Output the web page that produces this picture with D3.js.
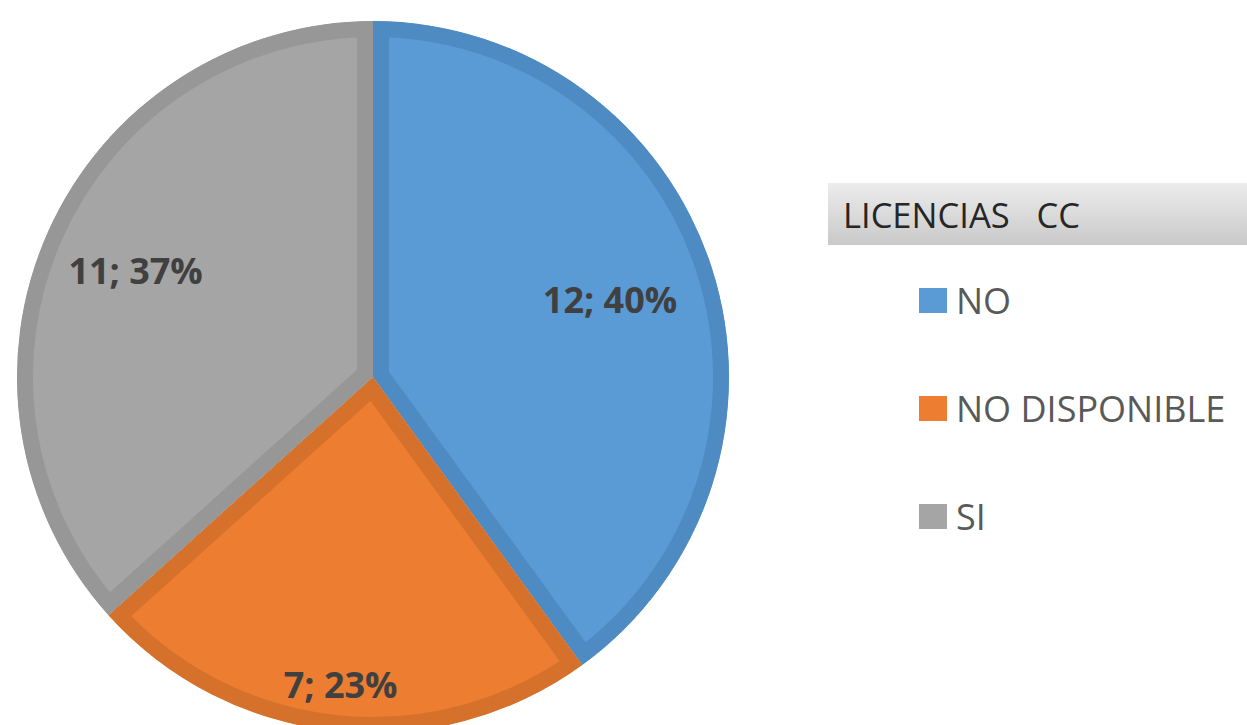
<!DOCTYPE html>
<html>
<head>
<meta charset="utf-8">
<script src="https://cdn.jsdelivr.net/npm/d3@7"></script>
<style>
  body { margin: 0; background: #fff; }
  svg { display: block; }
</style>
</head>
<body>
<svg id="chart" width="1247" height="725"></svg>
<script>
"use strict";

const categories = ["NO", "NO DISPONIBLE", "SI"];
const counts = [12, 7, 11];
const percentLabels = ["40%", "23%", "37%"];
const legendTitle = "LICENCIAS   CC";

const fills = ["#5b9bd5", "#ed7d31", "#a5a5a5"];
const borders = ["#4f8bc3", "#d6712c", "#979797"];
// how far out each label sits, as fraction of radius
const labelRadius = [0.70, 0.87, 0.73];

const width = 1247, height = 725;
const cx = 373, cy = 377, radius = 356;

const svg = d3.select("#chart");

const defs = svg.append("defs");
const grad = defs.append("linearGradient")
  .attr("id", "titleGrad")
  .attr("x1", 0).attr("y1", 0).attr("x2", 0).attr("y2", 1);
grad.append("stop").attr("offset", "0%").attr("stop-color", "#ececec");
grad.append("stop").attr("offset", "100%").attr("stop-color", "#c9c9c9");

const pie = d3.pie().sort(null).value(d => d.count);
const arc = d3.arc().innerRadius(0).outerRadius(radius);

const data = categories.map((c, i) => ({ name: c, count: counts[i], pct: percentLabels[i], i: i }));
const arcs = pie(data);

const g = svg.append("g").attr("transform", `translate(${cx},${cy})`);

// clip each slice to itself so its border only shows on the inside
arcs.forEach((d, i) => {
  defs.append("clipPath")
    .attr("id", "clip" + i)
    .append("path")
    .attr("d", arc(d));
});

g.selectAll("path.slice")
  .data(arcs)
  .enter()
  .append("path")
  .attr("class", "slice")
  .attr("d", arc)
  .attr("clip-path", (d, i) => `url(#clip${i})`)
  .style("fill", (d, i) => fills[i])
  .style("stroke", (d, i) => borders[i])
  .style("stroke-width", 32)
  .style("stroke-linejoin", "miter");

g.selectAll("text.lbl")
  .data(arcs)
  .enter()
  .append("text")
  .attr("class", "lbl")
  .attr("transform", (d, i) => {
    const r = radius * labelRadius[i];
    const a = (d.startAngle + d.endAngle) / 2;
    return `translate(${Math.sin(a) * r},${-Math.cos(a) * r})`;
  })
  .attr("text-anchor", "middle")
  .attr("dy", "0.36em")
  .style("font-family", "'Open Sans', 'DejaVu Sans', sans-serif")
  .style("font-weight", "bold")
  .style("font-size", "36px")
  .style("fill", "#404040")
  .text(d => `${d.data.count}; ${d.data.pct}`);

// legend
const legend = svg.append("g").attr("id", "legend");

legend.append("rect")
  .attr("x", 828)
  .attr("y", 183)
  .attr("width", width - 828)
  .attr("height", 62)
  .style("fill", "url(#titleGrad)");

legend.append("text")
  .attr("x", 843)
  .attr("y", 228)
  .style("font-family", "'Open Sans', sans-serif")
  .style("font-size", "34.5px")
  .style("white-space", "pre")
  .style("fill", "#262626")
  .text(legendTitle);

const legendY = d3.scalePoint()
  .domain(categories)
  .range([300, 516]);

const items = legend.selectAll("g.item")
  .data(categories)
  .enter()
  .append("g")
  .attr("class", "item")
  .attr("transform", d => `translate(919,${legendY(d)})`);

items.append("rect")
  .attr("x", 0)
  .attr("y", -12)
  .attr("width", 28)
  .attr("height", 25)
  .style("fill", (d, i) => fills[i]);

items.append("text")
  .attr("x", 37)
  .attr("y", 14)
  .style("font-family", "'Open Sans', sans-serif")
  .style("font-size", "36px")
  .style("fill", "#595959")
  .text(d => d);
</script>
</body>
</html>
